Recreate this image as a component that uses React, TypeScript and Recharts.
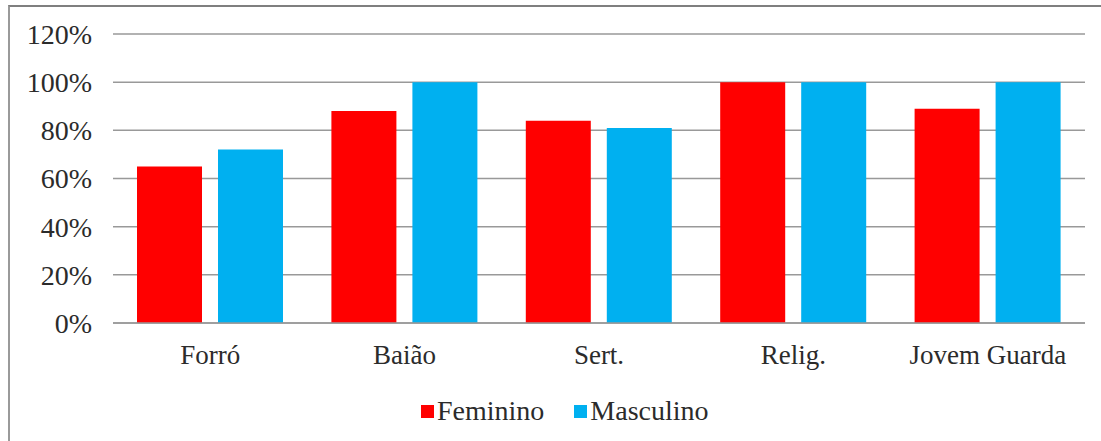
import React from 'react';
import { BarChart, Bar, XAxis, YAxis, CartesianGrid, Legend } from 'recharts';

const generos = ['Forró', 'Baião', 'Sert.', 'Relig.', 'Jovem Guarda'];
const feminino = [65, 88, 84, 100, 89];
const masculino = [72, 100, 81, 100, 100];
const yTicks = [0, 20, 40, 60, 80, 100, 120];

const series = [
  { key: 'feminino', name: 'Feminino', color: '#FF0000' },
  { key: 'masculino', name: 'Masculino', color: '#00B0F0' },
];

const data = generos.map((g, i) => ({
  genero: g,
  feminino: feminino[i],
  masculino: masculino[i],
}));

const FONT = '"Liberation Serif", "Times New Roman", serif';
const TEXT = '#2b2b2b';

function LegendBox() {
  return (
    <div
      style={{
        display: 'flex',
        alignItems: 'center',
        height: 40,
        marginLeft: 411,
        fontFamily: FONT,
        fontSize: 28,
        color: TEXT,
      }}
    >
      {series.map((s, i) => (
        <div key={s.key} style={{ display: 'flex', alignItems: 'center', marginRight: i === 0 ? 30 : 0 }}>
          <span style={{ width: 13, height: 13, background: s.color, display: 'inline-block', marginRight: 3 }} />
          <span>{s.name}</span>
        </div>
      ))}
    </div>
  );
}

export default function App() {
  return (
    <div
      style={{
        position: 'fixed',
        top: 5,
        left: 8,
        width: 1093,
        height: 436,
        boxSizing: 'border-box',
        borderTop: '2px solid #7f7f7f',
        borderLeft: '2px solid #9a9a9a',
        background: '#fff',
      }}
    >
      <BarChart
        width={1091}
        height={434}
        data={data}
        margin={{ top: 27, right: 16, left: 0, bottom: 10 }}
        barGap={16}
      >
        <CartesianGrid vertical={false} stroke="#999" strokeWidth={1.5} />
        <XAxis
          dataKey="genero"
          height={68}
          tickLine={false}
          tickSize={0}
          tickMargin={22}
          axisLine={{ stroke: '#999', strokeWidth: 1.5 }}
          tick={{ fontSize: 27, fill: TEXT, fontFamily: FONT }}
        />
        <YAxis
          width={103}
          domain={[0, 120]}
          ticks={yTicks}
          tickFormatter={(v: number) => `${v}%`}
          axisLine={false}
          tickLine={false}
          tickSize={0}
          tickMargin={21}
          tick={{ fontSize: 28, fill: TEXT, fontFamily: FONT }}
        />
        <Legend
          verticalAlign="bottom"
          height={40}
          wrapperStyle={{ left: 0, width: 1091 }}
          content={() => <LegendBox />}
        />
        {series.map((s) => (
          <Bar key={s.key} dataKey={s.key} name={s.name} fill={s.color} barSize={65} isAnimationActive={false} />
        ))}
      </BarChart>
    </div>
  );
}
